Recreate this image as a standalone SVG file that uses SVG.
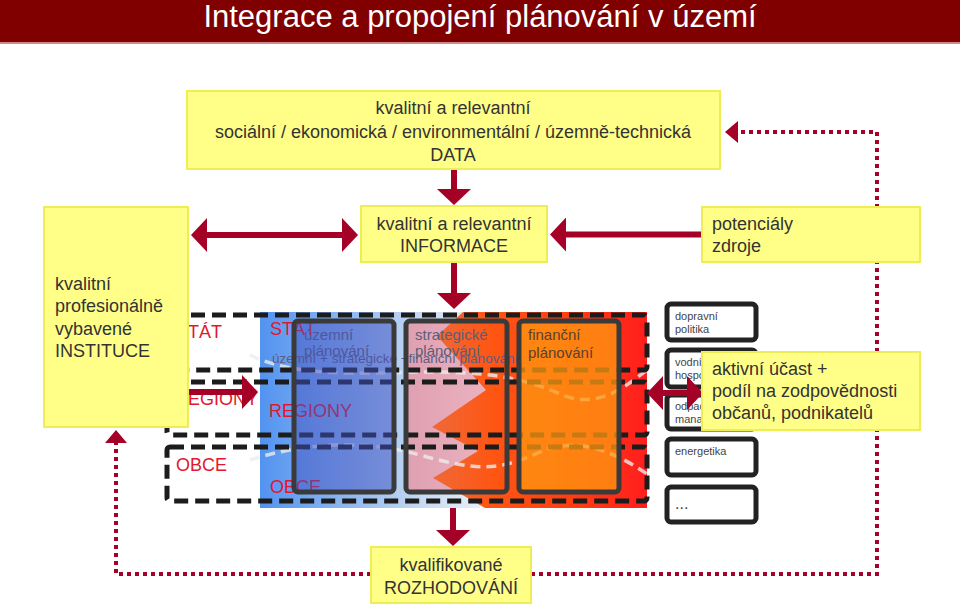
<svg xmlns="http://www.w3.org/2000/svg" width="960" height="605" viewBox="0 0 960 605">
<style>
text{font-family:"Liberation Sans",Arial,sans-serif}
.yb{fill:#FFFF88;stroke:#EDED55;stroke-width:2}
.yt{font-size:18px;fill:#333}
.lvl{font-size:18px;fill:#E3172C}
.pl{font-size:15px;fill:#5d5d78}
.frame{fill:none;stroke:#1c1c1c;stroke-width:5;stroke-dasharray:14 7}
.pbox{stroke:#3a3a3a;stroke-width:5}
.sbox{fill:#fff;stroke:#222;stroke-width:5}
.st{font-size:11px;fill:#444}
.arr{stroke:#A50026;stroke-width:6;fill:none}
.dot{stroke:#A50026;stroke-width:4;stroke-dasharray:4 4;fill:none}
.curve{fill:none;stroke:#ECECEC;stroke-width:3.5;stroke-dasharray:10 6;opacity:0.8}
</style>
<defs>
<marker id="head" viewBox="0 0 16 34" markerWidth="16" markerHeight="34" refX="1" refY="17" orient="auto-start-reverse" markerUnits="userSpaceOnUse"><path d="M0,0 L16,17 L0,34 z" fill="#A50026"/></marker>
<marker id="dhead" viewBox="0 0 13 22" markerWidth="13" markerHeight="22" refX="1" refY="11" orient="auto" markerUnits="userSpaceOnUse"><path d="M0,0 L13,11 L0,22 z" fill="#A50026"/></marker>
<linearGradient id="gBlue" x1="260" y1="0" x2="480" y2="0" gradientUnits="userSpaceOnUse">
<stop offset="0" stop-color="#5293F0"/><stop offset="0.55" stop-color="#A6C6F0"/><stop offset="0.75" stop-color="#C8DCF2"/><stop offset="1" stop-color="#E8EEF8"/>
</linearGradient>
<linearGradient id="gOr" x1="430" y1="0" x2="647" y2="0" gradientUnits="userSpaceOnUse">
<stop offset="0" stop-color="#EE6A3A"/><stop offset="0.3" stop-color="#FF5512"/><stop offset="0.7" stop-color="#FF3A12"/><stop offset="1" stop-color="#FF1E1E"/>
</linearGradient>
<linearGradient id="gPink" x1="406" y1="0" x2="507" y2="0" gradientUnits="userSpaceOnUse">
<stop offset="0" stop-color="#DFA0B2"/><stop offset="1" stop-color="#EEB6C2"/>
</linearGradient>
</defs>

<g id="header">
<rect x="0" y="0" width="960" height="42" fill="#800000"/>
<rect x="0" y="42" width="960" height="2" fill="#D08A8A"/>
<text x="480" y="27" font-size="31" fill="#fff" text-anchor="middle">Integrace a propojení plánování v území</text>
</g>

<g id="connectors">
<line class="arr" x1="454" y1="169" x2="454" y2="190" marker-end="url(#head)"/>
<line class="arr" x1="454" y1="262" x2="454" y2="294" marker-end="url(#head)"/>
<line class="arr" x1="453" y1="508" x2="453" y2="531" marker-end="url(#head)"/>
<line class="arr" x1="206" y1="235" x2="343" y2="235" marker-start="url(#head)" marker-end="url(#head)"/>
<line class="arr" x1="702" y1="234.5" x2="565" y2="234.5" marker-end="url(#head)"/>
<path class="dot" d="M531,574 H877 V132 H737" marker-end="url(#dhead)"/>
<path class="dot" d="M371,574 H116 V442" marker-end="url(#dhead)"/>
</g>

<g id="data">
<rect class="yb" x="187" y="91" width="533" height="78"/>
<text class="yt" x="453" y="114" text-anchor="middle">kvalitní a relevantní</text>
<text class="yt" x="453" y="138" text-anchor="middle">sociální / ekonomická / environmentální / územně-technická</text>
<text class="yt" x="453" y="161" text-anchor="middle">DATA</text>
</g>

<g id="informace">
<rect class="yb" x="361" y="206" width="186" height="56"/>
<text class="yt" x="454" y="230" text-anchor="middle">kvalitní a relevantní</text>
<text class="yt" x="454" y="252" text-anchor="middle">INFORMACE</text>
</g>

<g id="potencialy">
<rect class="yb" x="702" y="207" width="218" height="55"/>
<text class="yt" x="712" y="230">potenciály</text>
<text class="yt" x="712" y="252">zdroje</text>
</g>

<g id="planovani">
<rect x="260" y="312" width="220" height="196" fill="url(#gBlue)"/>
<rect x="406" y="321" width="101" height="171" rx="4" fill="url(#gPink)"/>
<polygon points="463,312 647,312 647,508 485,508 433,478 478,451 432,427 486,390 437,336" fill="url(#gOr)"/>
<path class="curve" d="M250,355 C300,380 380,372 430,372 S520,376 560,394 S630,382 650,368"/>
<path class="curve" d="M250,460 C300,444 360,438 420,455 S500,470 540,452 S620,455 650,476"/>
<rect class="frame" x="167" y="315" width="480" height="55" rx="3"/>
<rect class="frame" x="167" y="382" width="480" height="53" rx="3"/>
<rect class="frame" x="167" y="447" width="480" height="54" rx="3"/>
<text x="272" y="363" font-size="13.5" fill="#5d5d80">územní + strategické +finanční plánování</text>
<text class="pl" x="304" y="340">územní</text>
<text class="pl" x="304" y="356">plánování</text>
<text class="pl" x="415" y="340">strategické</text>
<text class="pl" x="415" y="356">plánování</text>
<text class="lvl" x="270" y="335">STÁT</text>
<text class="lvl" x="269" y="417">REGIONY</text>
<text class="lvl" x="270" y="493">OBCE</text>
<text class="lvl" x="176" y="338">STÁT</text>
<text class="lvl" x="175" y="405">REGIONY</text>
<text class="lvl" x="176" y="471">OBCE</text>
<rect class="pbox" x="294" y="321" width="100" height="171" rx="4" fill="#3F4FC0" fill-opacity="0.5"/>
<rect class="pbox" x="406" y="321" width="101" height="171" rx="4" fill="none"/>
<rect class="pbox" x="519" y="321" width="100" height="171" rx="4" fill="#FF9A12" fill-opacity="0.75"/>
<text x="528" y="340" font-size="15" fill="#5a4030">finanční</text>
<text x="528" y="358" font-size="15" fill="#5a4030">plánování</text>
<line class="arr" x1="188" y1="392" x2="243" y2="392" marker-end="url(#head)"/>
</g>

<g id="instituce">
<rect class="yb" x="44" y="207" width="144" height="220"/>
<text class="yt" x="55" y="290">kvalitní</text>
<text class="yt" x="55" y="312">profesionálně</text>
<text class="yt" x="55" y="335">vybavené</text>
<text class="yt" x="55" y="357">INSTITUCE</text>
</g>

<g id="oblasti">
<rect class="sbox" x="667" y="304" width="89" height="36" rx="4"/>
<text class="st" x="675" y="320">dopravní</text>
<text class="st" x="675" y="333">politika</text>
<rect class="sbox" x="667" y="350" width="89" height="37" rx="4"/>
<text class="st" x="675" y="366">vodní</text>
<text class="st" x="675" y="379">hospodářství</text>
<rect class="sbox" x="667" y="395" width="89" height="34" rx="4"/>
<text class="st" x="675" y="410">odpadový</text>
<text class="st" x="675" y="423">management</text>
<rect class="sbox" x="667" y="439" width="89" height="36" rx="4"/>
<text class="st" x="675" y="455">energetika</text>
<rect class="sbox" x="667" y="487" width="89" height="35" rx="4"/>
<text x="675" y="509" font-size="16" fill="#444">...</text>
</g>

<line class="arr" x1="662" y1="393" x2="688" y2="393" marker-start="url(#head)" marker-end="url(#head)"/>

<g id="aktivni">
<rect class="yb" x="702" y="352" width="218" height="78"/>
<text class="yt" x="712" y="375">aktivní účast +</text>
<text class="yt" x="712" y="397">podíl na zodpovědnosti</text>
<text class="yt" x="712" y="419">občanů, podnikatelů</text>
</g>

<g id="rozhodovani">
<rect class="yb" x="371" y="547" width="160" height="56"/>
<text class="yt" x="451" y="571" text-anchor="middle">kvalifikované</text>
<text class="yt" x="451" y="594" text-anchor="middle">ROZHODOVÁNÍ</text>
</g>
</svg>
